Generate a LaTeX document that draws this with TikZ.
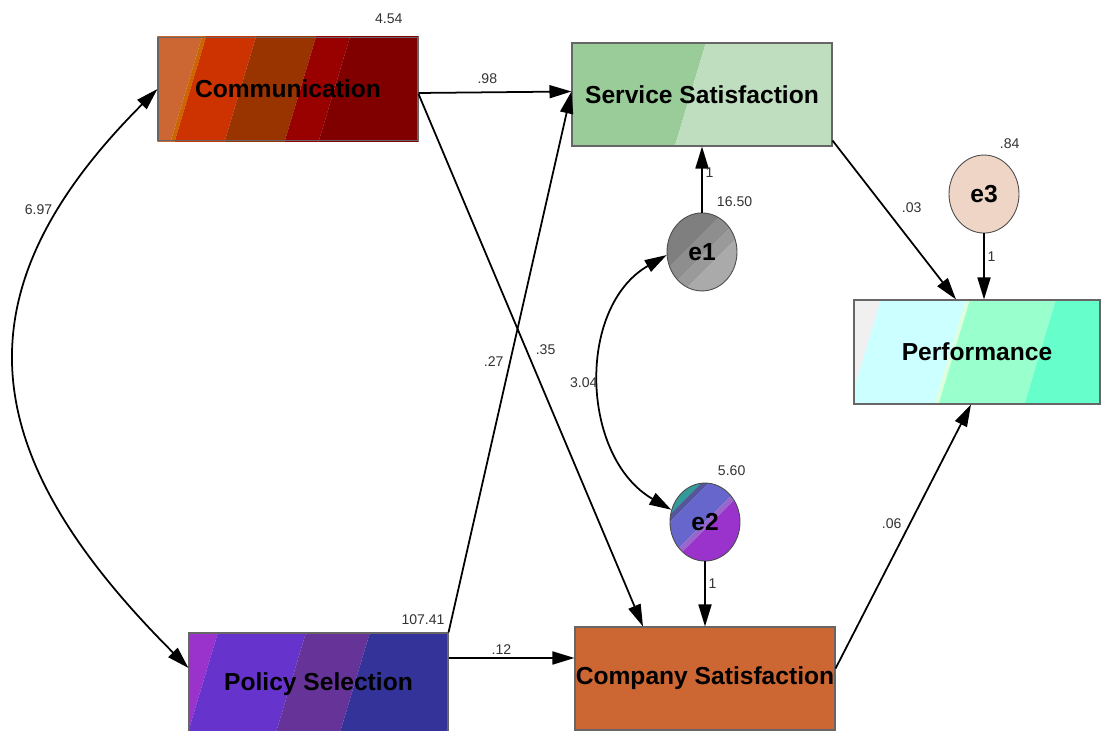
\documentclass[tikz,border=0pt]{standalone}
\usepackage{fontspec}
\setsansfont{Liberation Sans}
\usetikzlibrary{shapes.geometric, arrows.meta, positioning, backgrounds}
\definecolor{commA}{HTML}{CC6633}
\definecolor{commB}{HTML}{CC6600}
\definecolor{commC}{HTML}{CC3300}
\definecolor{commD}{HTML}{993300}
\definecolor{commE}{HTML}{990000}
\definecolor{commF}{HTML}{800000}
\definecolor{servA}{HTML}{99CC99}
\definecolor{servB}{HTML}{BFDDBF}
\definecolor{perfA}{HTML}{F0F0F0}
\definecolor{perfB}{HTML}{CCFFFF}
\definecolor{perfC}{HTML}{DDFFDD}
\definecolor{perfD}{HTML}{99FFCC}
\definecolor{perfE}{HTML}{66FFCC}
\definecolor{polA}{HTML}{9933CC}
\definecolor{polB}{HTML}{6633CC}
\definecolor{polC}{HTML}{663399}
\definecolor{polD}{HTML}{333399}
\definecolor{compOrange}{HTML}{CC6633}
\definecolor{errGrayA}{HTML}{7F7F7F}
\definecolor{errGrayB}{HTML}{8E8E8E}
\definecolor{errGrayC}{HTML}{9A9A9A}
\definecolor{errGrayD}{HTML}{AAAAAA}
\definecolor{errTeal}{HTML}{339999}
\definecolor{errNavy}{HTML}{555599}
\definecolor{errBlue}{HTML}{6666CC}
\definecolor{errLilac}{HTML}{9966CC}
\definecolor{errPurple}{HTML}{9933CC}
\definecolor{errPeach}{HTML}{EED5C5}
% slanted band inside a box (top left x, top right x)
\newcommand{\colband}[3]{\fill[#1] (#2,0.1) -- (#3,0.1) -- (#3-0.72,-2.3) -- (#2-0.72,-2.3) -- cycle;}
% diagonal band inside an ellipse
\newcommand{\diagband}[3]{\fill[#1] (-1.2,#2) rectangle (1.2,#3);}

\begin{document}
\begin{tikzpicture}[
    font=\sffamily,
    % Observed Variable Boxes
    var/.style={
        rectangle,
        draw=black!60,
        line width=0.6pt,
        minimum width=5.2cm,
        minimum height=2.06cm,
        inner sep=0pt,
        align=center,
        font=\sffamily\fontsize{14}{16}\selectfont\bfseries
    },
    % Error Terms
    err/.style={
        ellipse,
        draw=black!70,
        line width=0.5pt,
        minimum width=1.4cm,
        minimum height=1.56cm,
        inner sep=0pt,
        font=\sffamily\fontsize{14}{16}\selectfont\bfseries
    },
    % Estimates
    num/.style={
        text=black!80,
        inner sep=1.5pt,
        font=\sffamily\fontsize{8}{9}\selectfont
    },
    % Regression Paths
    link/.style={
        draw=black,
        line width=1pt,
        -{Triangle[length=0.44cm, width=0.26cm]}
    },
    % Covariances
    cov/.style={
        draw=black,
        line width=1pt,
        {Triangle[length=0.44cm, width=0.26cm]}-{Triangle[length=0.44cm, width=0.26cm]}
    }
]
\useasboundingbox (0,0) rectangle (22.02,-14.62);

% --- OBSERVED VARIABLES ---
\node[var] (Comm) at (5.76,-1.78) {Communication};
\node[var] (Serv) at (14.04,-1.89) {Service Satisfaction};
\node[var, minimum width=4.92cm, minimum height=2.08cm] (Perf) at (19.54,-7.04) {Performance};
\node[var, minimum width=5.18cm] (Policy) at (6.37,-13.69) {Policy Selection};
\node[var, fill=compOrange] (Company) at (14.1,-13.57) {Company Satisfaction};

% --- ERROR TERMS ---
\node[err, below=1.32cm of Serv] (e1) {e1};
\node[err, above=1.3cm of Company] (e2) {e2};
\node[err, fill=errPeach, above=1.32cm of Perf, xshift=0.14cm] (e3) {e3};

% --- FILLS (behind the nodes) ---
\begin{scope}[on background layer]
    \fill[white] (0,0) rectangle (22.02,-14.62);
    % Communication
    \begin{scope}[shift={(Comm.north west)}]
        \clip (Comm.north west) rectangle (Comm.south east);
        \colband{commA}{-1}{0.92}
        \colband{commB}{0.92}{1.0}
        \colband{commC}{1.0}{2.0}
        \colband{commD}{2.0}{3.2}
        \colband{commE}{3.2}{3.88}
        \colband{commF}{3.88}{7}
    \end{scope}
    % Service Satisfaction
    \begin{scope}[shift={(Serv.north west)}]
        \clip (Serv.north west) rectangle (Serv.south east);
        \colband{servA}{-1}{2.72}
        \colband{servB}{2.72}{7}
    \end{scope}
    % Performance
    \begin{scope}[shift={(Perf.north west)}]
        \clip (Perf.north west) rectangle (Perf.south east);
        \colband{perfA}{-1}{0.58}
        \colband{perfB}{0.58}{2.28}
        \colband{perfC}{2.28}{2.36}
        \colband{perfD}{2.36}{4.08}
        \colband{perfE}{4.08}{7}
    \end{scope}
    % Policy Selection
    \begin{scope}[shift={(Policy.north west)}]
        \clip (Policy.north west) rectangle (Policy.south east);
        \colband{polA}{-1}{0.62}
        \colband{polB}{0.62}{2.38}
        \colband{polC}{2.38}{3.66}
        \colband{polD}{3.66}{7}
    \end{scope}
    % e1
    \begin{scope}[shift={(e1.center)}]
        \clip (0,0) ellipse [x radius=0.7cm, y radius=0.78cm];
        \begin{scope}[rotate=45]
            \diagband{errGrayA}{0.25}{1.2}
            \diagband{errGrayB}{-0.05}{0.25}
            \diagband{errGrayC}{-0.3}{-0.05}
            \diagband{errGrayD}{-1.2}{-0.3}
        \end{scope}
    \end{scope}
    % e2
    \begin{scope}[shift={(e2.center)}]
        \clip (0,0) ellipse [x radius=0.7cm, y radius=0.78cm];
        \begin{scope}[rotate=45]
            \diagband{errTeal}{0.6}{1.2}
            \diagband{errNavy}{0.5}{0.6}
            \diagband{errBlue}{0.0}{0.5}
            \diagband{errLilac}{-0.1}{0.0}
            \diagband{errPurple}{-1.2}{-0.1}
        \end{scope}
    \end{scope}
\end{scope}

% --- VARIANCES ---
\node[num, above left=0.2cm and 0.26cm of Comm.north east] (vComm) {4.54};
\node[num, above left=0.1cm and 0.02cm of Policy.north east] (vPolicy) {107.41};
\node[num, above right=0.06cm and 0.24cm of e1.north] (vOne) {16.50};
\node[num, above right=0.08cm and 0.2cm of e2.north] (vTwo) {5.60};
\node[num, above right=0.06cm and 0.26cm of e3.north] (vThree) {.84};

% --- REGRESSION PATHS ---
\draw[link] ([yshift=-0.08cm]Comm.east) -- ([yshift=0.06cm]Serv.west) node[num, pos=0.45, above=0.1cm] {.98};
\draw[link] ([yshift=-0.1cm]Comm.east) -- ([xshift=-1.24cm]Company.north) node[num, pos=0.48, right=0.12cm] {.35};
\draw[link] (Policy.north east) -- ([yshift=0.06cm]Serv.west) node[num, pos=0.5, left=0.06cm] {.27};
\draw[link] ([yshift=0.53cm]Policy.east) -- ([yshift=0.41cm]Company.west) node[num, pos=0.42, above] {.12};
\draw[link] ([yshift=0.2cm]Company.east) -- ([xshift=-0.12cm]Perf.south) node[num, pos=0.55, left=0.1cm] {.06};
\draw[link] ([yshift=0.12cm]Serv.south east) -- ([xshift=-0.42cm]Perf.north) node[num, pos=0.42, right=0.28cm] {.03};

% error paths
\draw[link] (e1.north) -- (Serv.south) node[num, pos=0.6, right] {1};
\draw[link] (e2.south) -- (Company.north -| e2.south) node[num, pos=0.34, right] {1};
\draw[link] (e3.south) -- (e3.south |- Perf.north) node[num, pos=0.35, right] {1};

% --- COVARIANCES ---
\draw[cov] (Comm.west) to[out=225, in=135, looseness=1.3] node[num, pos=0.2, left=0.1cm] {6.97} ([yshift=0.33cm]Policy.west);
\draw[cov] (e1.185) to[out=210, in=150, looseness=1.05] node[num, pos=0.5, left] {3.04} (e2.160);

\end{tikzpicture}
\end{document}
